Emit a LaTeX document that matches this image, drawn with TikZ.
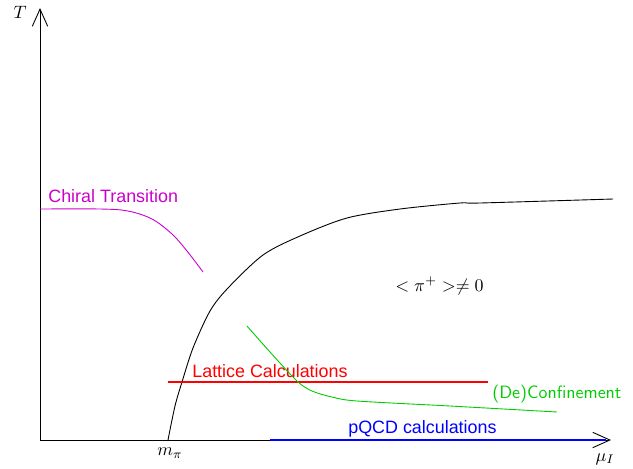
\documentclass[tikz,border=0pt]{standalone}
\usepackage{fontspec}
\setsansfont{Liberation Sans}
\newfontfamily\lmsans{Latin Modern Sans}
\usetikzlibrary{arrows.meta}
\definecolor{chiral}{RGB}{204,0,204}
\definecolor{conf}{RGB}{0,205,0}
\begin{document}
\begin{tikzpicture}[x=0.5587pt,y=-0.5587pt,
  axisline/.style={line width=0.5pt,-{Straight Barb[length=9.6pt,width=8.6pt,line width=0.5pt]}},
  curveline/.style={line width=0.5pt},
  lbl/.style={inner sep=0pt,anchor=base west,font=\sffamily},
  mlbl/.style={inner sep=0pt}]
\useasboundingbox (0,0) rectangle (633,468);
\coordinate (O) at (40,440);
\coordinate (Ttip) at (40,8);
\coordinate (Xtip) at (611,440);
\coordinate (Bstart) at (270,440);
\coordinate (Bend) at (606,440);
% axes
\draw[axisline] (O) -- (Ttip);
\draw[axisline] (O) -- (Xtip);
\draw[blue,line width=1.1pt] (Bstart) -- (Bend);
% axis labels
\node[mlbl] (Tlab) at (20,12) {$T$};
\node[mlbl] (mpi) at (170,453) {$m_\pi$};
\node[mlbl] (muI) at (605,459) {$\mu_I$};
% phase boundary
\draw[curveline] plot[smooth,tension=0.5] coordinates {(168,440) (175,406) (182,382) (193,348) (210,311) (228,288) (263,255) (300,236) (347,218) (400,209) (460,203) (480,203) (613,199)};
% chiral
\draw[chiral,curveline] plot[smooth,tension=0.55] coordinates {(40,209) (100,209) (128,211) (152,219) (172,234) (187,251) (203,272)};
\node[lbl,text=chiral] (chi) at (48,202) {Chiral Transition};
% lattice
\coordinate (L1) at (168,382);
\coordinate (L2) at (488,382);
\draw[red,line width=0.9pt] (L1) -- (L2);
\node[lbl,text=red] (lat) at (192,377) {Lattice Calculations};
% deconfinement
\draw[conf,curveline] plot[smooth,tension=0.5] coordinates {(247,326) (270,352) (297,381) (312,391) (332,397) (357,401) (450,406) (557,412)};
\node[lbl,text=conf,font=\lmsans] (dec) at (492,398) {(De)Confinement};
% pQCD
\node[lbl,text=blue] (pqcd) at (348,433) {pQCD calculations};
% condensate
\node[inner sep=0pt,anchor=base west] (cond) at (395,291) {$<\pi^+>\neq 0$};
\end{tikzpicture}
\end{document}
